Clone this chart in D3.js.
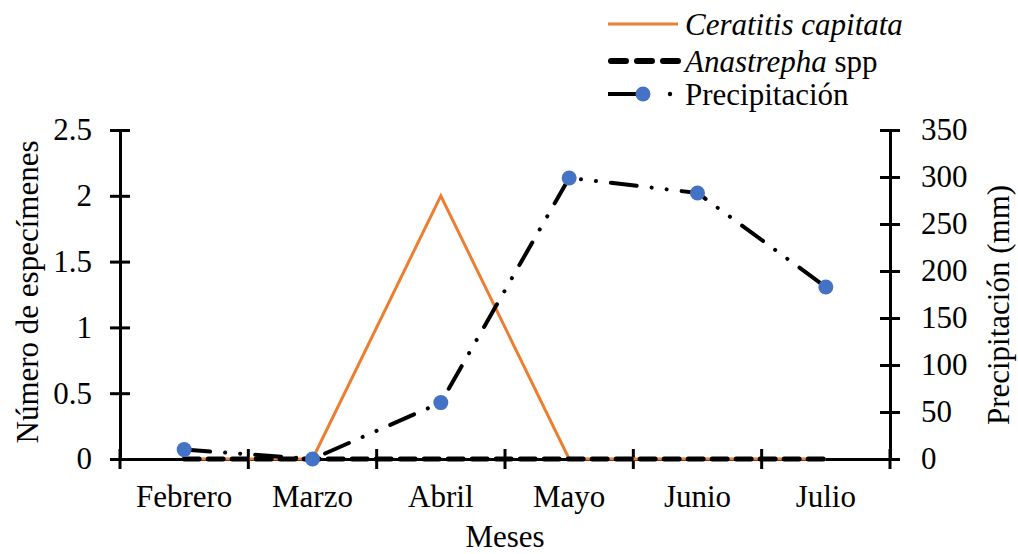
<!DOCTYPE html>
<html>
<head>
<meta charset="utf-8">
<script src="https://cdn.jsdelivr.net/npm/d3@7"></script>
<style>
  body { margin: 0; background: #fff; }
  svg { display: block; }
</style>
</head>
<body>
<svg id="chart" width="1018" height="554"></svg>
<script>
// Monthly captures and rainfall
const months = ["Febrero", "Marzo", "Abril", "Mayo", "Junio", "Julio"];
const ceratitis = [0, 0, 2, 0, 0, 0];
const anastrepha = [0, 0, 0, 0, 0, 0];
const precipitation = [10, 0, 60, 299, 283, 183];
const leftTicks = [0, 0.5, 1, 1.5, 2, 2.5];
const rightTicks = [0, 50, 100, 150, 200, 250, 300, 350];

const serif = "'Liberation Serif', 'Times New Roman', serif";
const svg = d3.select("#chart").attr("font-family", serif);
const plotLeft = 120, plotRight = 890, plotTop = 130, plotBottom = 459;

const x = d3.scaleBand().domain(months).range([plotLeft, plotRight]);
const yL = d3.scaleLinear().domain([0, 2.5]).range([plotBottom, plotTop]);
const yR = d3.scaleLinear().domain([0, 350]).range([plotBottom, plotTop]);
const cx = m => x(m) + x.bandwidth() / 2;

const fontSize = 31;

// Left axis
const gL = svg.append("g").attr("transform", `translate(${plotLeft},0)`)
  .call(d3.axisLeft(yL).tickValues(leftTicks).tickFormat(d3.format("")).tickSize(10).tickSizeOuter(0));
gL.selectAll(".tick line").attr("x2", -10).attr("x1", 10);
// Right axis
const gR = svg.append("g").attr("transform", `translate(${plotRight},0)`)
  .call(d3.axisRight(yR).tickValues(rightTicks).tickSize(10).tickSizeOuter(0));
gR.selectAll(".tick line").attr("x1", -10).attr("x2", 10);
// Bottom axis with ticks on category boundaries
const gB = svg.append("g").attr("transform", `translate(0,${plotBottom})`)
  .call(d3.axisBottom(x).tickSize(0).tickSizeOuter(0));
gB.selectAll(".tick text").attr("y", 48).attr("dy", 0);
gB.selectAll(".boundary").data(d3.range(months.length + 1)).join("line")
  .attr("class", "boundary")
  .attr("x1", i => plotLeft + i * x.bandwidth()).attr("x2", i => plotLeft + i * x.bandwidth())
  .attr("y1", -10).attr("y2", 10).attr("stroke", "#000").attr("stroke-width", 3);

[gL, gR, gB].forEach(g => {
  g.attr("font-family", serif).attr("font-size", fontSize);
  g.select(".domain").attr("stroke", "#000").attr("stroke-width", 3);
  g.selectAll(".tick line").attr("stroke", "#000").attr("stroke-width", 3);
  g.selectAll(".tick text").attr("fill", "#000");
});
gL.selectAll(".tick text").attr("x", -28);
gR.selectAll(".tick text").attr("x", 31);

// Series
const lineL = d3.line().x((d, i) => cx(months[i])).y(d => yL(d));
const lineR = d3.line().x((d, i) => cx(months[i])).y(d => yR(d));

svg.append("path").datum(ceratitis).attr("d", lineL)
  .attr("fill", "none").attr("stroke", "#ED7D31").attr("stroke-width", 3);
svg.append("path").datum(anastrepha).attr("d", lineL)
  .attr("fill", "none").attr("stroke", "#000").attr("stroke-width", 5)
  .attr("stroke-linecap", "round")
  .attr("stroke-dasharray", "15,9");
svg.append("path").datum(precipitation).attr("d", lineR)
  .attr("fill", "none").attr("stroke", "#000").attr("stroke-width", 4)
  .attr("stroke-linecap", "round")
  .attr("stroke-dasharray", "26,15,0.1,15,0.1,15");
svg.selectAll(".pt").data(precipitation).join("circle")
  .attr("class", "pt")
  .attr("cx", (d, i) => cx(months[i])).attr("cy", d => yR(d))
  .attr("r", 7.5).attr("fill", "#4472C4");

// Axis titles
svg.append("text").attr("transform", "translate(38,292) rotate(-90)")
  .attr("text-anchor", "middle").attr("font-size", fontSize).text("Número de especímenes");
svg.append("text").attr("transform", "translate(1009,305) rotate(-90)")
  .attr("text-anchor", "middle").attr("font-size", fontSize).text("Precipitación (mm)");
svg.append("text").attr("x", (plotLeft + plotRight) / 2).attr("y", 547)
  .attr("text-anchor", "middle").attr("font-size", fontSize).text("Meses");

// Legend
const lg = svg.append("g");
const lx0 = 608, lx1 = 678, tx = 685;
const rows = [24, 61, 94];
lg.append("line").attr("x1", lx0).attr("x2", lx1).attr("y1", rows[0]).attr("y2", rows[0])
  .attr("stroke", "#ED7D31").attr("stroke-width", 3);
lg.append("line").attr("x1", lx0 + 3).attr("x2", lx1).attr("y1", rows[1]).attr("y2", rows[1])
  .attr("stroke", "#000").attr("stroke-width", 6).attr("stroke-linecap", "round")
  .attr("stroke-dasharray", "15,11");
lg.append("line").attr("x1", lx0).attr("x2", 643).attr("y1", rows[2]).attr("y2", rows[2])
  .attr("stroke", "#000").attr("stroke-width", 4);
lg.append("circle").attr("cx", 670).attr("cy", rows[2]).attr("r", 2.2).attr("fill", "#000");
lg.append("circle").attr("cx", 643).attr("cy", rows[2]).attr("r", 7.5).attr("fill", "#4472C4");

const t1 = lg.append("text").attr("x", tx).attr("y", rows[0] + 11).attr("font-size", fontSize);
t1.append("tspan").attr("font-style", "italic").text("Ceratitis capitata");
const t2 = lg.append("text").attr("x", tx).attr("y", rows[1] + 11).attr("font-size", fontSize);
t2.append("tspan").attr("font-style", "italic").text("Anastrepha");
t2.append("tspan").text(" spp");
lg.append("text").attr("x", tx).attr("y", rows[2] + 11).attr("font-size", fontSize).text("Precipitación");
</script>
</body>
</html>
